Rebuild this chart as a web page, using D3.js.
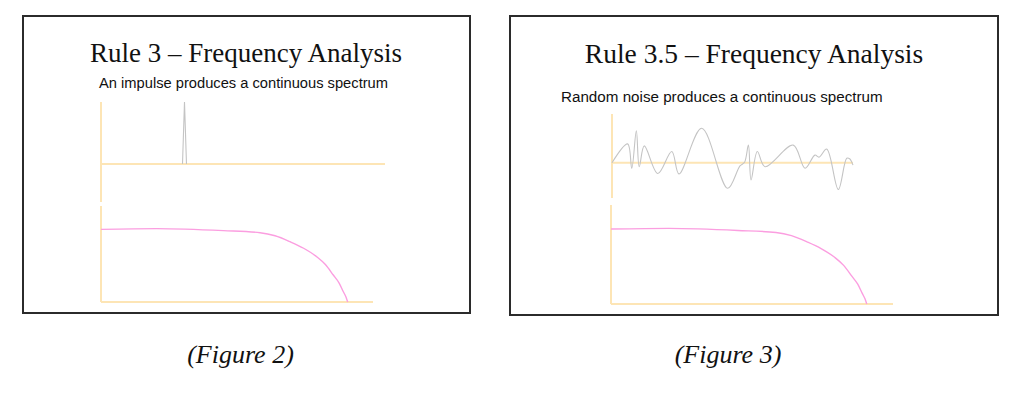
<!DOCTYPE html>
<html>
<head>
<meta charset="utf-8">
<script src="https://cdn.jsdelivr.net/npm/d3@7"></script>
<style>
  html, body { margin: 0; padding: 0; background: #fff; }
  svg { display: block; }
</style>
</head>
<body>
<svg id="chart" width="1024" height="396"></svg>
<script>
// ---------------- DATA ----------------
const panelTitles = ["Rule 3 \u2013 Frequency Analysis", "Rule 3.5 \u2013 Frequency Analysis"];
const panelSubtitles = ["An impulse produces a continuous spectrum", "Random noise produces a continuous spectrum"];
const figureCaptions = ["(Figure 2)", "(Figure 3)"];

// Impulse (time 0-100, amplitude 0-1)
const impulseTime = [28.7, 29.4, 30.1];
const impulseAmp  = [0, 1, 0];

// Random noise (time 0-100, amplitude -1..1)
const noiseTime = [0, 6.5, 8.2, 10.1, 11.3, 13.4, 19.0, 24.8, 27.8, 37.2, 48.0, 53.1, 55.0, 56.6, 57.7, 60.3, 63.5, 75.2, 80.1, 84.2, 85.9, 89.1, 93.9, 97.4, 98.6, 100];
const noiseAmp  = [0, 0.47, -0.14, 0.80, -0.10, 0.42, -0.27, 0.28, -0.28, 0.86, -0.64, -0.08, 0.01, 0.44, -0.43, 0.28, -0.10, 0.44, -0.14, 0.19, 0.14, 0.34, -0.67, 0.11, 0.10, -0.06];

// Continuous spectrum (frequency 0-100, magnitude 0-1)
const specFreq = [0, 20.5, 45, 58.5, 64, 69.5, 74.5, 79.3, 82.5, 85.4, 87.5, 89.1, 90.1, 90.7];
const specMag  = [0.757, 0.764, 0.743, 0.722, 0.69, 0.628, 0.56, 0.472, 0.39, 0.281, 0.2, 0.107, 0.05, 0.0];

// ---------------- STYLE / LAYOUT ----------------
const axisColor = "#fde5b5";
const pinkColor = "#fb9ee0";
const grayColor = "#c4c4c4";

const svg = d3.select("#chart");

const panels = [
  {
    box: [23, 16, 470, 313],
    titleX: 246, titleY: 62, titleSize: 27,
    subX: 99, subY: 87.5, subSize: 14.7,
    top: { x: [101, 385], base: 164, yTop: 102, yBottom: 202, ampDomain: [0, 1], ampRange: [164, 102] },
    bot: { x: [101, 373], yTop: 206, yBase: 302, fRange: [101, 373] },
    captionX: 240.5
  },
  {
    box: [510, 16, 998, 315],
    titleX: 754, titleY: 63, titleSize: 27.5,
    subX: 561, subY: 102, subSize: 15.2,
    top: { x: [612, 853], base: 162.7, yTop: 114, yBottom: 198, ampDomain: [-1, 1], ampRange: [202.7, 122.7] },
    bot: { x: [611, 893], yTop: 205, yBase: 304, fRange: [611, 893] },
    captionX: 728
  }
];

panels.forEach((p, i) => {
  const g = svg.append("g");
  // frame
  g.append("rect")
    .attr("x", p.box[0]).attr("y", p.box[1])
    .attr("width", p.box[2] - p.box[0]).attr("height", p.box[3] - p.box[1])
    .attr("fill", "#fff").attr("stroke", "#2b2b2b").attr("stroke-width", 2);

  // title
  g.append("text")
    .attr("x", p.titleX).attr("y", p.titleY)
    .attr("text-anchor", "middle")
    .attr("font-family", "'Liberation Serif', 'Times New Roman', serif")
    .attr("font-size", p.titleSize).attr("fill", "#111")
    .text(panelTitles[i]);

  // subtitle
  g.append("text")
    .attr("x", p.subX).attr("y", p.subY)
    .attr("font-family", "'Liberation Sans', Arial, sans-serif")
    .attr("font-size", p.subSize).attr("fill", "#111")
    .text(panelSubtitles[i]);

  // ---- top (time-domain) panel ----
  const tx = d3.scaleLinear().domain([0, 100]).range(p.top.x);
  const ty = d3.scaleLinear().domain(p.top.ampDomain).range(p.top.ampRange);
  g.append("line")
    .attr("x1", tx(0)).attr("x2", tx(0))
    .attr("y1", p.top.yTop).attr("y2", p.top.yBottom)
    .attr("stroke", axisColor).attr("stroke-width", 2);
  g.append("line")
    .attr("x1", tx(0)).attr("x2", tx(100))
    .attr("y1", ty(0)).attr("y2", ty(0))
    .attr("stroke", axisColor).attr("stroke-width", 2);

  if (i === 0) {
    const pts = impulseTime.map((t, k) => [t, impulseAmp[k]]);
    g.append("path")
      .datum(pts)
      .attr("d", d3.line().x(d => tx(d[0])).y(d => ty(d[1])))
      .attr("fill", "none").attr("stroke", grayColor).attr("stroke-width", 1.1);
  } else {
    const pts = noiseTime.map((t, k) => [t, noiseAmp[k]]);
    g.append("path")
      .datum(pts)
      .attr("d", d3.line().x(d => tx(d[0])).y(d => ty(d[1])).curve(d3.curveCatmullRom.alpha(0.5)))
      .attr("fill", "none").attr("stroke", grayColor).attr("stroke-width", 1.1);
  }

  // ---- bottom (spectrum) panel ----
  const fx = d3.scaleLinear().domain([0, 100]).range(p.bot.fRange);
  const fy = d3.scaleLinear().domain([0, 1]).range([p.bot.yBase, p.bot.yTop]);
  g.append("line")
    .attr("x1", fx(0)).attr("x2", fx(0))
    .attr("y1", fy(1)).attr("y2", fy(0))
    .attr("stroke", axisColor).attr("stroke-width", 2);
  g.append("line")
    .attr("x1", fx(0)).attr("x2", fx(100))
    .attr("y1", fy(0)).attr("y2", fy(0))
    .attr("stroke", axisColor).attr("stroke-width", 2);

  const spts = specFreq.map((f, k) => [f, specMag[k]]);
  g.append("path")
    .datum(spts)
    .attr("d", d3.line().x(d => fx(d[0])).y(d => fy(d[1])).curve(d3.curveMonotoneX))
    .attr("fill", "none").attr("stroke", pinkColor).attr("stroke-width", 1.4);

  // caption
  svg.append("text")
    .attr("x", p.captionX).attr("y", 363)
    .attr("text-anchor", "middle")
    .attr("font-family", "'Liberation Serif', 'Times New Roman', serif")
    .attr("font-style", "italic")
    .attr("font-size", 26).attr("fill", "#111")
    .text(figureCaptions[i]);
});
</script>
</body>
</html>
